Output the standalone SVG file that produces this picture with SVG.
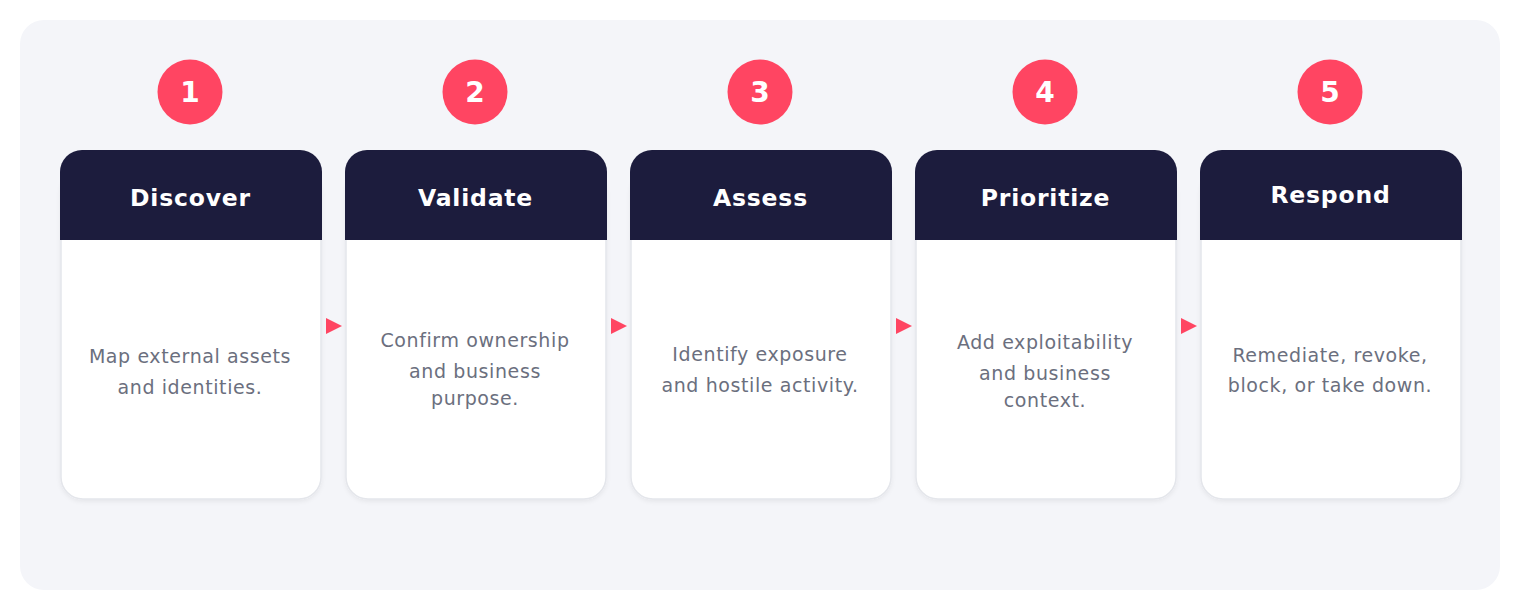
<svg xmlns="http://www.w3.org/2000/svg" width="1520" height="610" viewBox="0 0 1520 610">
<defs>
<style>
.bg{fill:#f4f5f9}
.body{fill:#ffffff;stroke:#e4e6eb;stroke-width:1.5}
.head{fill:#1c1c3d}
.badge{fill:#ff4562}
.num{font-family:"DejaVu Sans",sans-serif;font-weight:bold;font-size:28px;fill:#ffffff;text-anchor:middle}
.title{font-family:"DejaVu Sans",sans-serif;font-weight:bold;font-size:23.5px;letter-spacing:0.8px;fill:#ffffff;text-anchor:middle}
.desc{font-family:"DejaVu Sans",sans-serif;font-size:19px;letter-spacing:0.6px;fill:#6b6f7e;text-anchor:middle}
</style>
<filter id="sh" x="-10%" y="-10%" width="120%" height="120%">
<feDropShadow dx="0" dy="2" stdDeviation="2" flood-color="#000" flood-opacity="0.06"/>
</filter>
</defs>
<rect class="bg" x="20" y="20" width="1480" height="570" rx="24"/>

<g id="connectors">
<path d="M326,318 L342,326 L326,334 z" fill="#ff4562"/>
<path d="M611,318 L627,326 L611,334 z" fill="#ff4562"/>
<path d="M896,318 L912,326 L896,334 z" fill="#ff4562"/>
<path d="M1181,318 L1197,326 L1181,334 z" fill="#ff4562"/>
</g>

<g id="step1">
<circle class="badge" cx="190" cy="92" r="32.5"/>
<text class="num" x="190" y="102">1</text>
<rect class="body" x="61" y="170" width="260" height="329" rx="22" filter="url(#sh)"/>
<path class="head" d="M60,240 V172 A22,22 0 0 1 82,150 H300 A22,22 0 0 1 322,172 V240 z"/>
<text class="title" x="190.5" y="206">Discover</text>
<text class="desc" x="190" y="363">Map external assets</text>
<text class="desc" x="190" y="394">and identities.</text>
</g>

<g id="step2">
<circle class="badge" cx="475" cy="92" r="32.5"/>
<text class="num" x="475" y="102">2</text>
<rect class="body" x="346" y="170" width="260" height="329" rx="22" filter="url(#sh)"/>
<path class="head" d="M345,240 V172 A22,22 0 0 1 367,150 H585 A22,22 0 0 1 607,172 V240 z"/>
<text class="title" x="475.5" y="206">Validate</text>
<text class="desc" x="475" y="347">Confirm ownership</text>
<text class="desc" x="475" y="378">and business</text>
<text class="desc" x="475" y="405">purpose.</text>
</g>

<g id="step3">
<circle class="badge" cx="760" cy="92" r="32.5"/>
<text class="num" x="760" y="102">3</text>
<rect class="body" x="631" y="170" width="260" height="329" rx="22" filter="url(#sh)"/>
<path class="head" d="M630,240 V172 A22,22 0 0 1 652,150 H870 A22,22 0 0 1 892,172 V240 z"/>
<text class="title" x="760.5" y="206">Assess</text>
<text class="desc" x="760" y="361">Identify exposure</text>
<text class="desc" x="760" y="392">and hostile activity.</text>
</g>

<g id="step4">
<circle class="badge" cx="1045" cy="92" r="32.5"/>
<text class="num" x="1045" y="102">4</text>
<rect class="body" x="916" y="170" width="260" height="329" rx="22" filter="url(#sh)"/>
<path class="head" d="M915,240 V172 A22,22 0 0 1 937,150 H1155 A22,22 0 0 1 1177,172 V240 z"/>
<text class="title" x="1045.5" y="206">Prioritize</text>
<text class="desc" x="1045" y="349">Add exploitability</text>
<text class="desc" x="1045" y="380">and business</text>
<text class="desc" x="1045" y="407">context.</text>
</g>

<g id="step5">
<circle class="badge" cx="1330" cy="92" r="32.5"/>
<text class="num" x="1330" y="102">5</text>
<rect class="body" x="1201" y="170" width="260" height="329" rx="22" filter="url(#sh)"/>
<path class="head" d="M1200,240 V172 A22,22 0 0 1 1222,150 H1440 A22,22 0 0 1 1462,172 V240 z"/>
<text class="title" x="1330.5" y="203">Respond</text>
<text class="desc" x="1330" y="362">Remediate, revoke,</text>
<text class="desc" x="1330" y="392">block, or take down.</text>
</g>
</svg>
